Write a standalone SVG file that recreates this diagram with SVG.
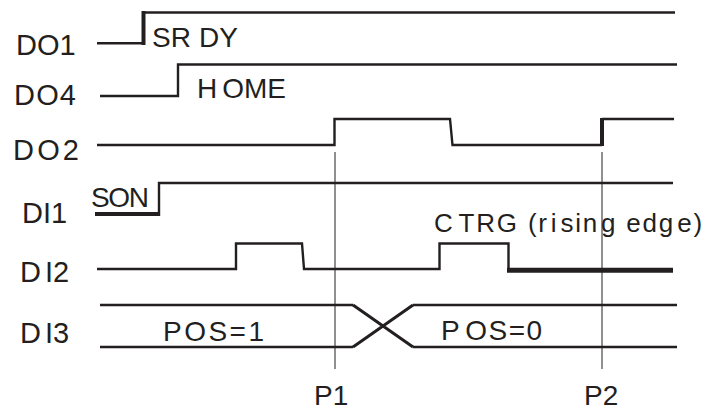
<svg xmlns="http://www.w3.org/2000/svg" width="709" height="412" viewBox="0 0 709 412">
<style>
.sig{fill:none;stroke:#231f20;stroke-width:2.4;stroke-linejoin:miter;stroke-linecap:butt}
.thk{fill:none;stroke:#231f20;stroke-width:4}
.thk5{fill:none;stroke:#231f20;stroke-width:5}
.guide{fill:none;stroke:#231f20;stroke-width:1}
.lbl{font-family:"Liberation Sans",Arial,sans-serif;font-size:28px;fill:#231f20}
.side{font-family:"Liberation Sans",Arial,sans-serif;font-size:29px;fill:#231f20}
.sm{font-family:"Liberation Sans",Arial,sans-serif;font-size:26px;fill:#231f20;letter-spacing:1.8px}
</style>
<rect width="709" height="412" fill="#ffffff"/>
<g id="guides">
<line class="guide" x1="335" y1="152" x2="335" y2="369"/>
<line class="guide" x1="602" y1="152" x2="602" y2="369"/>
</g>
<g id="DO1">
<text class="side" x="16" y="55">DO1</text>
<path class="sig" d="M97,43.3 H143.5 M143.5,12.5 H675"/>
<line class="thk" x1="143.5" y1="45" x2="143.5" y2="11"/>
<text class="lbl" x="152" y="47">SR<tspan dx="8">DY</tspan></text>
</g>
<g id="DO4">
<text class="side" x="14" y="105" textLength="62" lengthAdjust="spacing">DO4</text>
<path class="sig" d="M100,96 H178 V64.5 H677"/>
<text class="lbl" x="197" y="98">H<tspan dx="5">OME</tspan></text>
</g>
<g id="DO2">
<text class="side" x="13" y="160" textLength="66" lengthAdjust="spacing">DO2</text>
<path class="sig" d="M97,145 H334.5 V119 H450 L452.5,145 H602 M602,119 H674"/>
<line class="thk" x1="602" y1="146" x2="602" y2="118"/>
</g>
<g id="DI1">
<text class="side" x="22" y="223">DI1</text>
<path class="thk" d="M95,214 H159"/>
<path class="sig" d="M159,216 V183 H673"/>
<text class="lbl" x="91" y="207" textLength="58" lengthAdjust="spacing">SON</text>
</g>
<g id="DI2">
<text class="side" x="20" y="282">D<tspan dx="4">I2</tspan></text>
<path class="sig" d="M97,269 H236 V243.5 H302 L304,269 H439.5 V243.5 H508.5 V270"/>
<path class="thk5" d="M507,270.2 H673"/>
<text class="sm" x="434" y="232">C<tspan dx="4">TRG</tspan> (r<tspan dx="2">i</tspan><tspan dx="2">sin</tspan><tspan dx="2">g</tspan> edg<tspan dx="2">e)</tspan></text>
</g>
<g id="DI3">
<text class="side" x="20" y="343">D<tspan dx="4">I3</tspan></text>
<path class="sig" d="M100,305 H353 M413,347 H677 M100,347 H353 M413,305 H677"/>
<path class="sig" style="stroke-width:3" d="M353,305 L413,347 M353,347 L413,305"/>
<text class="lbl" x="163" y="341" textLength="101" lengthAdjust="spacing">POS=1</text>
<text class="lbl" x="441" y="340" letter-spacing="1.5">P<tspan dx="4">OS=0</tspan></text>
</g>
<g id="markers">
<text class="lbl" x="314" y="405">P1</text>
<text class="lbl" x="584" y="405">P2</text>
</g>
</svg>
